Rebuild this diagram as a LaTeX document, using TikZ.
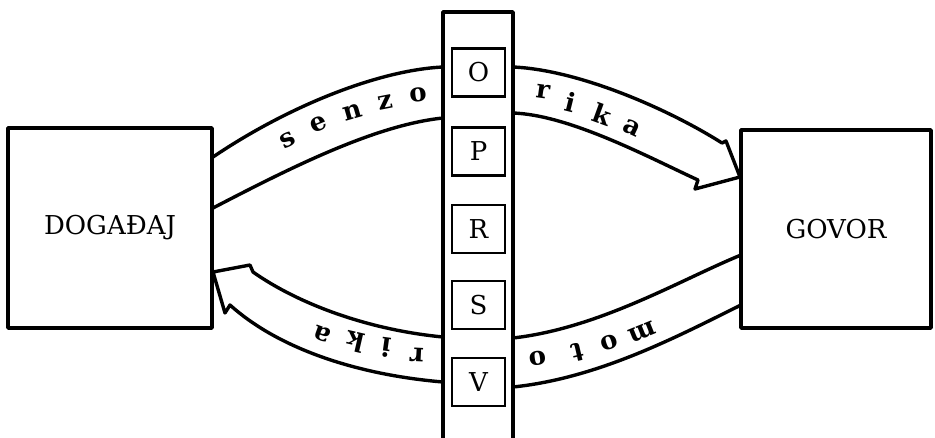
\documentclass[tikz,border=0pt]{standalone}
\usepackage{fontspec}
\setmainfont{DejaVu Serif}
\begin{document}
\begin{tikzpicture}[x=1pt,y=-1pt,
  boxline/.style={line width=3.6pt, line join=round},
  bandline/.style={line width=3.4pt, line cap=round, line join=round},
  bigbox/.style={draw, boxline, minimum width=204pt, minimum height=200pt, inner sep=0pt, font=\fontsize{26}{30}\selectfont},
  letterbox/.style={draw, line width=2.8pt, minimum width=53pt, minimum height=48pt, inner sep=0pt, font=\fontsize{26}{30}\selectfont},
  bandletter/.style={inner sep=0pt, font=\fontsize{26}{30}\selectfont\bfseries}]
\useasboundingbox (0,0) rectangle (935,437);
% main boxes
\node[bigbox] (dog) at (110,228) {DOGAĐAJ};
\node[bigbox, minimum width=190pt, minimum height=198pt] (gov) at (836,229) {GOVOR};
% column
\draw[boxline] (443,439) -- (443,12) -- (513,12) -- (513,439);
\node[letterbox] (bo) at (478.5,72.5) {O};
\node[letterbox] (bp) at (478.5,151.5) {P};
\node[letterbox] (br) at (478.5,229) {R};
\node[letterbox] (bs) at (478.5,305) {S};
\node[letterbox] (bv) at (478.5,382) {V};
% upper band (senzorika)
\draw[bandline] (213,157) .. controls (290,105) and (380,70) .. (443,67);
\draw[bandline] (213,208) .. controls (290,168) and (375,125) .. (443,118);
\draw[bandline] (513,67) .. controls (580,70) and (670,110) .. (722,143)
   -- (726,141) -- (740,177) -- (695,189) -- (698,180)
   .. controls (650,158) and (570,115) .. (513,113);
% lower band (motorika)
\draw[bandline] (741,255) .. controls (680,280) and (600,328) .. (513,338);
\draw[bandline] (741,305) .. controls (680,335) and (600,378) .. (513,387);
\draw[bandline] (443,337) .. controls (370,330) and (300,305) .. (253,272)
   -- (250,265) -- (213,272) -- (225,313) -- (230,305)
   .. controls (280,350) and (360,375) .. (443,382);
% letters upper
\node[bandletter, rotate=28] (l1) at (288,140) {s};
\node[bandletter, rotate=22] (l2) at (319,124) {e};
\node[bandletter, rotate=16] (l3) at (353,112) {n};
\node[bandletter, rotate=11] (l4) at (385,102) {z};
\node[bandletter, rotate=6] (l5) at (418,95) {o};
\node[bandletter, rotate=-8] (l6) at (543,92) {r};
\node[bandletter, rotate=-14] (l7) at (571,102) {i};
\node[bandletter, rotate=-20] (l8) at (602,114) {k};
\node[bandletter, rotate=-25] (l9) at (632,128) {a};
% letters lower
\node[bandletter, rotate=202] (m1) at (642,332) {m};
\node[bandletter, rotate=198] (m2) at (609,343) {o};
\node[bandletter, rotate=193] (m3) at (578,352) {t};
\node[bandletter, rotate=188] (m4) at (538,358) {o};
\node[bandletter, rotate=177] (m5) at (417,355) {r};
\node[bandletter, rotate=172] (m6) at (386,348) {i};
\node[bandletter, rotate=167] (m7) at (355,342) {k};
\node[bandletter, rotate=160] (m8) at (322,334) {a};
\end{tikzpicture}
\end{document}
